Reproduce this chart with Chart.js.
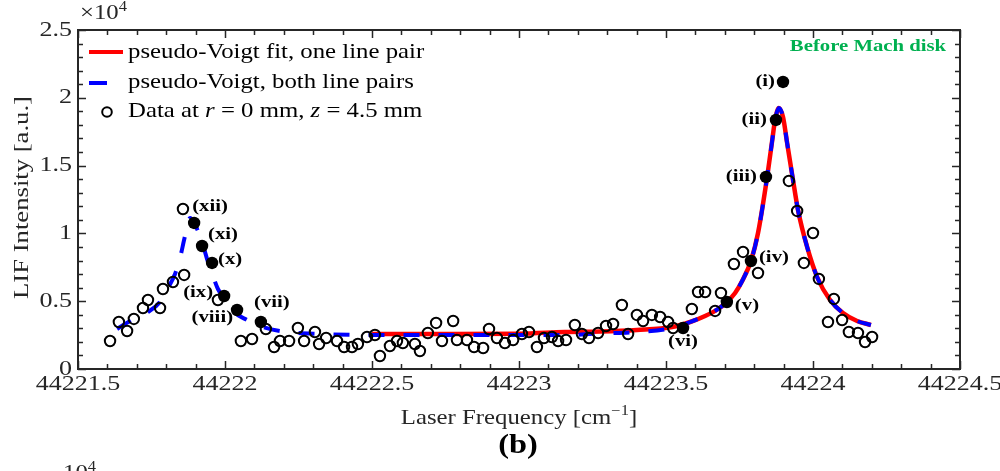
<!DOCTYPE html>
<html>
<head>
<meta charset="utf-8">
<script src="https://cdn.jsdelivr.net/npm/chart.js@4.4.1/dist/chart.umd.min.js"></script>
<style>
  body { margin: 0; background: #fff; }
  #wrap { width: 1000px; height: 471px; }
</style>
</head>
<body>
<div id="wrap"><canvas id="grafico" width="1000" height="471"></canvas></div>
<script>
// eixos
const xTicks = [44221.5, 44222, 44222.5, 44223, 44223.5, 44224, 44224.5];
const xTickLabels = ['44221.5', '44222', '44222.5', '44223', '44223.5', '44224', '44224.5'];
const yTicks = [0, 5000, 10000, 15000, 20000, 25000];
const yTickLabels = ['0', '0.5', '1', '1.5', '2', '2.5'];

// dados medidos (circulos abertos)
const dataX = [44221.609, 44221.639, 44221.667, 44221.690, 44221.721, 44221.738, 44221.779, 44221.789, 44221.823, 44221.861,
  44221.857, 44221.976, 44222.054, 44222.092, 44222.139, 44222.167, 44222.187, 44222.218, 44222.248, 44222.269,
  44222.306, 44222.320, 44222.344, 44222.381, 44222.405, 44222.432, 44222.452, 44222.483, 44222.510, 44222.527,
  44222.561, 44222.585, 44222.605, 44222.646, 44222.663, 44222.690, 44222.718, 44222.738, 44222.776, 44222.789,
  44222.823, 44222.847, 44222.878, 44222.898, 44222.925, 44222.952, 44222.980, 44223.010, 44223.034, 44223.061,
  44223.085, 44223.112, 44223.133, 44223.160, 44223.190, 44223.214, 44223.238, 44223.269, 44223.296, 44223.320,
  44223.350, 44223.371, 44223.401, 44223.422, 44223.452, 44223.480, 44223.507, 44223.524, 44223.588, 44223.609,
  44223.633, 44223.667, 44223.687, 44223.731, 44223.762, 44223.813, 44223.918, 44223.946, 44224.000, 44223.969,
  44224.020, 44224.071, 44224.051, 44224.099, 44224.122, 44224.153, 44224.177, 44224.201];
const dataY = [2065, 3466, 2803, 3688, 4499, 5089, 4499, 5900, 6416, 6933,
  11800, 5089, 2065, 2213, 2950, 1623, 2065, 2065, 3024, 2065,
  2729, 1844, 2286, 2065, 1623, 1623, 1844, 2360, 2508, 959,
  1696, 2065, 1918, 1844, 1328, 2655, 3393, 2065, 3540, 2139,
  2139, 1623, 1549, 2950, 2286, 1918, 2139, 2581, 2729, 1623,
  2286, 2360, 2065, 2139, 3245, 2581, 2286, 2655, 3171, 3319,
  4720, 2581, 3983, 3540, 3983, 3835, 3466, 3024, 4425, 5679,
  5679, 4278, 5605, 7744, 8629, 7080, 13865, 11653, 10030, 7818,
  6638, 5163, 3466, 3614, 2729, 2655, 1991, 2360];

// pontos destacados (circulos cheios)
const markX = [44223.898, 44223.874, 44223.840, 44223.789, 44223.707, 44223.558,
  44222.122, 44222.041, 44221.997, 44221.956, 44221.922, 44221.895];
const markY = [21166, 18364, 14160, 7965, 4941, 3024, 3466, 4351, 5384, 7818, 9071, 10768];
const markLabels = ['(i)', '(ii)', '(iii)', '(iv)', '(v)', '(vi)', '(vii)', '(viii)', '(ix)', '(x)', '(xi)', '(xii)'];

// ajuste pseudo-Voigt, os dois pares de linhas (azul tracejado)
const fitBothX = [44221.633, 44221.677, 44221.738, 44221.779, 44221.810, 44221.830, 44221.847, 44221.864, 44221.881,
  44221.905, 44221.925, 44221.942, 44221.959, 44221.976, 44221.997, 44222.027, 44222.075, 44222.129, 44222.211,
  44222.323, 44222.500, 44222.765, 44223.003, 44223.156, 44223.276, 44223.401, 44223.521, 44223.582, 44223.633,
  44223.677, 44223.707, 44223.735, 44223.759, 44223.789, 44223.813, 44223.844, 44223.861, 44223.871, 44223.884,
  44223.898, 44223.912, 44223.932, 44223.949, 44223.980, 44224.014, 44224.058, 44224.102, 44224.150, 44224.197];
const fitBothY = [2950, 3540, 4204, 4941, 6121, 7006, 8186, 9809, 11136,
  10325, 9145, 7891, 6859, 5900, 5236, 4278, 3614, 3098, 2729,
  2581, 2508, 2508, 2508, 2508, 2618, 2729, 3024, 3466, 3909,
  4425, 4941, 5605, 6490, 7965, 10030, 14160, 16815, 18364, 19249,
  18585, 16668, 13939, 11726, 8998, 6785, 5089, 4130, 3540, 3245];

// ajuste pseudo-Voigt, um par de linhas (vermelho)
const fitOneX = [44222.500, 44222.765, 44223.003, 44223.156, 44223.276, 44223.401, 44223.521, 44223.582, 44223.633,
  44223.677, 44223.707, 44223.735, 44223.759, 44223.789, 44223.813, 44223.844, 44223.861, 44223.871, 44223.884,
  44223.898, 44223.912, 44223.932, 44223.949, 44223.980, 44224.014, 44224.058, 44224.102, 44224.150, 44224.197];
const fitOneY = [2580, 2580, 2600, 2729, 2765, 2876, 3098, 3466, 3909,
  4425, 4941, 5605, 6490, 7965, 10030, 14160, 16815, 18364, 19249,
  18585, 16668, 13939, 11726, 8998, 6785, 5089, 4130, 3540, 3245];

const SERIF = '"Liberation Serif", "Times New Roman", serif';
const CINZA = '#262626';

function pares(xs, ys) {
  return xs.map((x, i) => ({ x: x, y: ys[i] }));
}

// texto esticado na horizontal (a figura original esta esticada)
function texto(ctx, s, x, y, fonte, alinha, cor, sx) {
  ctx.save();
  ctx.font = fonte;
  ctx.fillStyle = cor;
  ctx.textBaseline = 'middle';
  ctx.textAlign = 'left';
  const w = ctx.measureText(s).width * sx;
  let x0 = x;
  if (alinha === 'center') x0 = x - w / 2;
  else if (alinha === 'right') x0 = x - w;
  ctx.translate(x0, y);
  ctx.scale(sx, 1);
  ctx.fillText(s, 0, 0);
  ctx.restore();
  return w;
}

// varias partes na mesma linha (italico, expoente)
function partes(ctx, lista, x, y, alinha, cor, sx) {
  let total = 0;
  lista.forEach(p => {
    ctx.font = p.f;
    total += ctx.measureText(p.s).width * sx;
  });
  let x0 = x;
  if (alinha === 'center') x0 = x - total / 2;
  else if (alinha === 'right') x0 = x - total;
  lista.forEach(p => {
    x0 += texto(ctx, p.s, x0, y + (p.dy || 0), p.f, 'left', cor, sx);
  });
}

const eixosPlugin = {
  id: 'eixos',
  afterDatasetsDraw(chart) {
    const ctx = chart.ctx;
    const a = chart.chartArea;
    const xs = chart.scales.x, ys = chart.scales.y;
    ctx.save();
    ctx.strokeStyle = CINZA;
    ctx.lineWidth = 1.5;
    ctx.beginPath();
    // ticks em x (menores a cada 0.1)
    for (let i = 0; i <= 30; i++) {
      const px = Math.round(xs.getPixelForValue(44221.5 + i * 0.1)) + 0.5;
      const len = (i % 5 === 0) ? 8 : 5;
      ctx.moveTo(px, a.bottom); ctx.lineTo(px, a.bottom - len);
      ctx.moveTo(px, a.top); ctx.lineTo(px, a.top + len);
    }
    // ticks em y (menores a cada 1000)
    for (let i = 0; i <= 25; i++) {
      const py = Math.round(ys.getPixelForValue(i * 1000)) + 0.5;
      const len = (i % 5 === 0) ? 8 : 5;
      ctx.moveTo(a.left, py); ctx.lineTo(a.left + len, py);
      ctx.moveTo(a.right, py); ctx.lineTo(a.right - len, py);
    }
    ctx.stroke();
    ctx.lineWidth = 2;
    ctx.strokeRect(a.left, a.top, a.right - a.left, a.bottom - a.top);
    ctx.restore();
  },
  afterDraw(chart) {
    const ctx = chart.ctx;
    const a = chart.chartArea;
    const xs = chart.scales.x, ys = chart.scales.y;
    const fTick = '21px ' + SERIF;
    const fSup = '14px ' + SERIF;

    xTicks.forEach((v, i) => {
      texto(ctx, xTickLabels[i], xs.getPixelForValue(v), 384, fTick, 'center', CINZA, 1.24);
    });
    yTicks.forEach((v, i) => {
      texto(ctx, yTickLabels[i], 72, ys.getPixelForValue(v), fTick, 'right', CINZA, 1.24);
    });

    // multiplicador x10^4
    partes(ctx, [{ s: '\u00d710', f: fTick }, { s: '4', f: fSup, dy: -6 }], 80, 13, 'left', CINZA, 1.18);

    // titulo do eixo x
    partes(ctx, [
      { s: 'Laser Frequency [cm', f: fTick },
      { s: '\u22121', f: fSup, dy: -7 },
      { s: ']', f: fTick }
    ], (a.left + a.right) / 2, 418, 'center', CINZA, 1.18);

    // titulo do eixo y
    ctx.save();
    ctx.translate(22, (a.top + a.bottom) / 2 - 2);
    ctx.rotate(-Math.PI / 2);
    texto(ctx, 'LIF Intensity [a.u.]', 0, 0, fTick, 'center', CINZA, 1.27);
    ctx.restore();

    // legenda
    const fLeg = '21px ' + SERIF;
    ctx.save();
    ctx.lineWidth = 4;
    ctx.strokeStyle = '#ff0000';
    ctx.beginPath(); ctx.moveTo(89, 52); ctx.lineTo(123, 52); ctx.stroke();
    ctx.strokeStyle = '#0000ff';
    ctx.beginPath(); ctx.moveTo(89, 83); ctx.lineTo(107, 83); ctx.stroke();
    ctx.lineWidth = 2;
    ctx.strokeStyle = '#000';
    ctx.beginPath(); ctx.arc(107, 112, 4.8, 0, Math.PI * 2); ctx.stroke();
    ctx.restore();
    texto(ctx, chart.data.datasets[0].label, 128, 52, fLeg, 'left', '#000', 1.18);
    texto(ctx, chart.data.datasets[1].label, 128, 82, fLeg, 'left', '#000', 1.18);
    const fIt = 'italic 21px ' + SERIF;
    partes(ctx, [
      { s: 'Data at ', f: fLeg }, { s: 'r', f: fIt }, { s: ' = 0 mm, ', f: fLeg },
      { s: 'z', f: fIt }, { s: ' = 4.5 mm', f: fLeg }
    ], 128, 111, 'left', '#000', 1.18);

    // rotulos dos pontos cheios
    const desl = [[-8, 0, 'right'], [-9, 0, 'right'], [-9, 0, 'right'], [8, -3, 'left'], [8, 4, 'left'],
      [0, 14, 'center'], [11, -19, 'center'], [-4, 8, 'right'], [-11, -3, 'right'], [6, -3, 'left'],
      [6, -11, 'left'], [-2, -16, 'left']];
    const fRot = 'bold 17px ' + SERIF;
    markLabels.forEach((s, i) => {
      const px = xs.getPixelForValue(markX[i]);
      const py = ys.getPixelForValue(markY[i]);
      texto(ctx, s, px + desl[i][0], py + desl[i][1], fRot, desl[i][2], '#000', 1.22);
    });

    texto(ctx, 'Before Mach disk', 868, 47, 'bold 17px ' + SERIF, 'center', '#00b050', 1.22);
    texto(ctx, '(b)', 518, 446, 'bold 27px ' + SERIF, 'center', '#000', 1.2);

    // expoente da figura seguinte, cortado na borda
    partes(ctx, [{ s: '10', f: fTick }, { s: '4', f: fSup, dy: -6 }], 63, 473, 'left', CINZA, 1.18);
  }
};

new Chart(document.getElementById('grafico'), {
  type: 'scatter',
  data: {
    datasets: [
      {
        label: 'pseudo-Voigt fit, one line pair',
        data: pares(fitOneX, fitOneY),
        showLine: true,
        borderColor: '#ff0000',
        borderWidth: 4.5,
        pointRadius: 0,
        cubicInterpolationMode: 'monotone',
        order: 3
      },
      {
        label: 'pseudo-Voigt, both line pairs',
        data: pares(fitBothX, fitBothY),
        showLine: true,
        borderColor: '#0000ff',
        borderWidth: 4,
        borderDash: [16, 19],
        pointRadius: 0,
        cubicInterpolationMode: 'monotone',
        order: 2
      },
      {
        label: 'Data',
        data: pares(dataX, dataY),
        pointRadius: 5.2,
        borderWidth: 2,
        borderColor: '#000',
        backgroundColor: 'rgba(0,0,0,0)',
        order: 1
      },
      {
        label: 'Marked',
        data: pares(markX, markY),
        pointRadius: 6.2,
        borderWidth: 0,
        backgroundColor: '#000',
        order: 0
      }
    ]
  },
  options: {
    responsive: false,
    animation: false,
    events: [],
    layout: { padding: { left: 78, right: 40, top: 30, bottom: 102 } },
    plugins: { legend: { display: false }, tooltip: { enabled: false } },
    scales: {
      x: { type: 'linear', min: 44221.5, max: 44224.5, display: false },
      y: { type: 'linear', min: 0, max: 25000, display: false }
    }
  },
  plugins: [eixosPlugin]
});
</script>
</body>
</html>
